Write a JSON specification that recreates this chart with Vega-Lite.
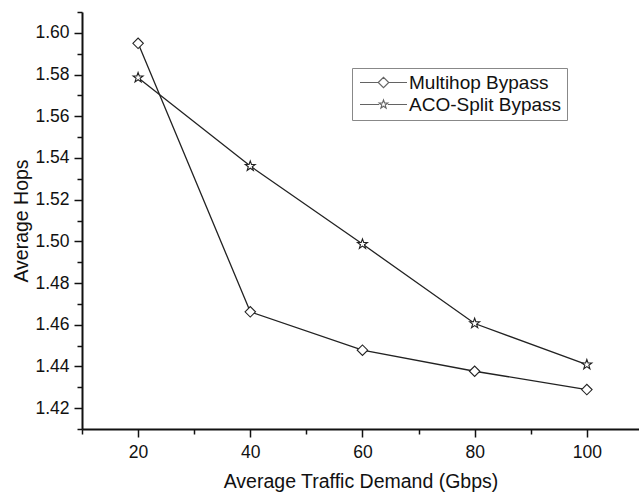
{
  "$schema": "https://vega.github.io/schema/vega-lite/v6.json",
  "width": 557,
  "height": 417,
  "autosize": "none",
  "padding": {"left": 82, "top": 12, "right": 0, "bottom": 64},
  "background": "white",
  "config": {
    "view": {"stroke": null},
    "font": "Liberation Sans",
    "axis": {
      "domainColor": "#111",
      "domainWidth": 2,
      "tickColor": "#111",
      "tickWidth": 1.5,
      "grid": false,
      "labelFont": "Liberation Sans",
      "labelFontSize": 17.5,
      "labelColor": "#111",
      "titleFont": "Liberation Sans",
      "titleFontSize": 19.5,
      "titleFontWeight": "normal",
      "titleColor": "#111"
    }
  },
  "data": {
    "values": [
      {"demand": 20, "hops": 1.595, "series": "Multihop Bypass"},
      {"demand": 40, "hops": 1.4662, "series": "Multihop Bypass"},
      {"demand": 60, "hops": 1.4478, "series": "Multihop Bypass"},
      {"demand": 80, "hops": 1.4377, "series": "Multihop Bypass"},
      {"demand": 100, "hops": 1.4289, "series": "Multihop Bypass"},
      {"demand": 20, "hops": 1.5785, "series": "ACO-Split Bypass"},
      {"demand": 40, "hops": 1.5361, "series": "ACO-Split Bypass"},
      {"demand": 60, "hops": 1.4987, "series": "ACO-Split Bypass"},
      {"demand": 80, "hops": 1.4606, "series": "ACO-Split Bypass"},
      {"demand": 100, "hops": 1.4409, "series": "ACO-Split Bypass"}
    ]
  },
  "encoding": {
    "x": {
      "field": "demand",
      "type": "quantitative",
      "title": "Average Traffic Demand (Gbps)",
      "scale": {"domain": [10, 109.3], "nice": false, "zero": false},
      "axis": {
        "values": [10, 20, 30, 40, 50, 60, 70, 80, 90, 100],
        "labelExpr": "datum.value % 20 == 0 ? datum.label : ''",
        "tickSize": {"condition": {"test": "datum.value % 20 == 0", "value": 8}, "value": 5},
        "labelPadding": 6,
        "titlePadding": 12
      }
    },
    "y": {
      "field": "hops",
      "type": "quantitative",
      "title": "Average Hops",
      "scale": {"domain": [1.41, 1.61], "nice": false, "zero": false},
      "axis": {
        "values": [1.41, 1.42, 1.43, 1.44, 1.45, 1.46, 1.47, 1.48, 1.49, 1.5, 1.51, 1.52, 1.53, 1.54, 1.55, 1.56, 1.57, 1.58, 1.59, 1.6, 1.61],
        "labelExpr": "round(datum.value*100) % 2 == 0 ? format(datum.value, '.2f') : ''",
        "tickSize": {"condition": {"test": "round(datum.value*100) % 2 == 0", "value": 8}, "value": 5},
        "labelPadding": 5,
        "titlePadding": 3
      }
    }
  },
  "resolve": {"scale": {"shape": "independent"}, "legend": {"shape": "independent"}},
  "layer": [
    {
      "mark": {"type": "line", "color": "#222", "strokeWidth": 1.3},
      "encoding": {"detail": {"field": "series"}}
    },
    {
      "mark": {"type": "point", "filled": true, "fill": "white", "stroke": "#222", "strokeWidth": 1.1, "opacity": 1, "size": 110},
      "encoding": {
        "shape": {
          "field": "series",
          "type": "nominal",
          "scale": {
            "domain": ["Multihop Bypass", "ACO-Split Bypass"],
            "range": ["diamond", "M0,-1L0.235,-0.324L0.951,-0.309L0.38,0.124L0.588,0.809L0,0.4L-0.588,0.809L-0.38,0.124L-0.951,-0.309L-0.235,-0.324Z"]
          },
          "legend": null
        }
      }
    },
    {
      "transform": [{"filter": "datum.demand > 1000"}],
      "mark": {"type": "point", "filled": false, "color": "#222", "strokeWidth": 1.1},
      "encoding": {
        "shape": {
          "field": "series",
          "type": "nominal",
          "scale": {
            "domain": ["Multihop Bypass", "ACO-Split Bypass"],
            "range": [
              "M-3.36,0L-0.75,0M0.75,0L3.36,0M-0.75,0L0,-0.75L0.75,0L0,0.75Z",
              "M-3.36,0L-0.61,0M0.61,0L3.36,0M0,-0.64L0.15,-0.207L0.609,-0.198L0.243,0.079L0.376,0.518L0,0.256L-0.376,0.518L-0.243,0.079L-0.609,-0.198L-0.15,-0.207Z"
            ]
          },
          "legend": {
            "title": null,
            "orient": "none",
            "legendX": 270,
            "legendY": 56,
            "padding": 5,
            "fillColor": "white",
            "strokeColor": "#888",
            "labelFont": "Liberation Sans",
            "labelFontSize": 19,
            "labelColor": "#111",
            "labelOffset": 16,
            "symbolOffset": 17,
            "rowPadding": 2,
            "symbolSize": 196,
            "symbolStrokeColor": "#222",
            "symbolStrokeWidth": 1.1
          }
        }
      }
    }
  ]
}
